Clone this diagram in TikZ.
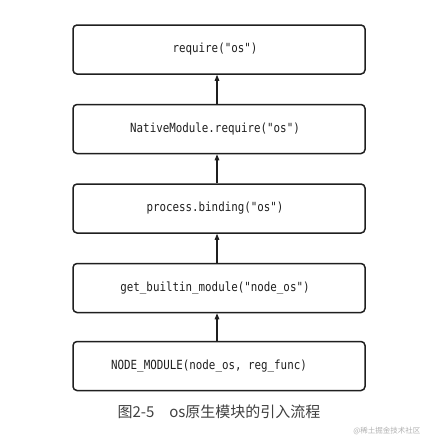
\documentclass[tikz,border=0pt]{standalone}
\usepackage{fontspec}
\setmonofont[FakeStretch=0.86]{DejaVu Sans Mono}
\newfontfamily\cjk{Noto Sans CJK SC}
\usetikzlibrary{arrows.meta}
\begin{document}
\begin{tikzpicture}[x=1pt,y=-1pt,
  flowbox/.style={draw=black!88, line width=1.5pt, rounded corners=4pt,
    minimum width=292pt, minimum height=49pt, inner sep=0pt},
  boxtext/.style={font=\ttfamily\fontsize{12.6}{14}\selectfont, text=black!88, inner sep=0pt},
  uparrow/.style={line width=1.2pt, draw=black!88, -{Triangle[length=6pt,width=4.5pt]}}]
\useasboundingbox (0,0) rectangle (427,439);
\fill[white] (0,0) rectangle (427,439);
\node[flowbox] (b1) at (219,49.5) {};
\node[flowbox] (b2) at (219,129) {};
\node[flowbox] (b3) at (219,208.5) {};
\node[flowbox] (b4) at (219,288) {};
\node[flowbox] (b5) at (219,366) {};
\node[boxtext] (t1) at (215,49.5) {require("os")};
\node[boxtext] (t2) at (215,129) {NativeModule.require("os")};
\node[boxtext] (t3) at (215,208.5) {process.binding("os")};
\node[boxtext] (t4) at (215,288) {get\_builtin\_module("node\_os")};
\node[boxtext] (t5) at (209,366) {NODE\_MODULE(node\_os, reg\_func)};
\draw[uparrow] (b5.north -| 217,0) -- (b4.south -| 217,0);
\draw[uparrow] (b4.north -| 217,0) -- (b3.south -| 217,0);
\draw[uparrow] (b3.north -| 217,0) -- (b2.south -| 217,0);
\draw[uparrow] (b2.north -| 217,0) -- (b1.south -| 217,0);
\node[font=\cjk\fontsize{15}{17}\selectfont, text=black!75] (cap) at (219,412) {图2-5\quad os原生模块的引入流程};
\node[font=\cjk\fontsize{7.5}{9}\selectfont, text=black!30, anchor=east] (wm) at (424,431) {@稀土掘金技术社区};
\end{tikzpicture}
\end{document}
